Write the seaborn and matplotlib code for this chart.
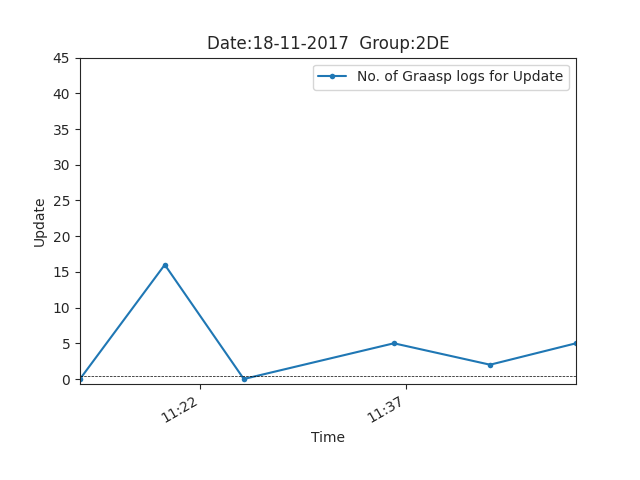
import matplotlib
matplotlib.use("Agg")
import matplotlib.pyplot as plt
import matplotlib.dates as mdates
import seaborn as sns
import pandas as pd

times = ["2017-11-18 11:13:15", "2017-11-18 11:19:25", "2017-11-18 11:25:10",
         "2017-11-18 11:36:05", "2017-11-18 11:43:05", "2017-11-18 11:49:20"]
counts = [0, 16, 0, 5, 2, 5]
df = pd.DataFrame({"Time": pd.to_datetime(times), "Update": counts})

sns.set_style("ticks")
plt.rcParams['font.family'] = ['DejaVu Sans']
fig, ax = plt.subplots(figsize=(6.4, 4.8), dpi=100)
sns.lineplot(data=df, x="Time", y="Update", marker="o", markersize=4,
             markeredgewidth=0, color="#1f77b4", label="No. of Graasp logs for Update", ax=ax)
ax.axhline(0.4, color="black", linestyle="--", linewidth=0.5)
ax.set_xlim(df["Time"].min(), df["Time"].max())
ax.set_ylim(-0.7, 45)
ax.set_yticks(range(0, 46, 5))
ax.xaxis.set_major_locator(mdates.MinuteLocator(byminute=[7, 22, 37, 52]))
ax.xaxis.set_major_formatter(mdates.DateFormatter("%H:%M"))
ax.set_title("Date:18-11-2017  Group:2DE")
ax.set_xlabel("Time")
ax.set_ylabel("Update")
ax.legend(loc="upper right")
fig.autofmt_xdate()
fig.savefig("out.png", dpi=100)
